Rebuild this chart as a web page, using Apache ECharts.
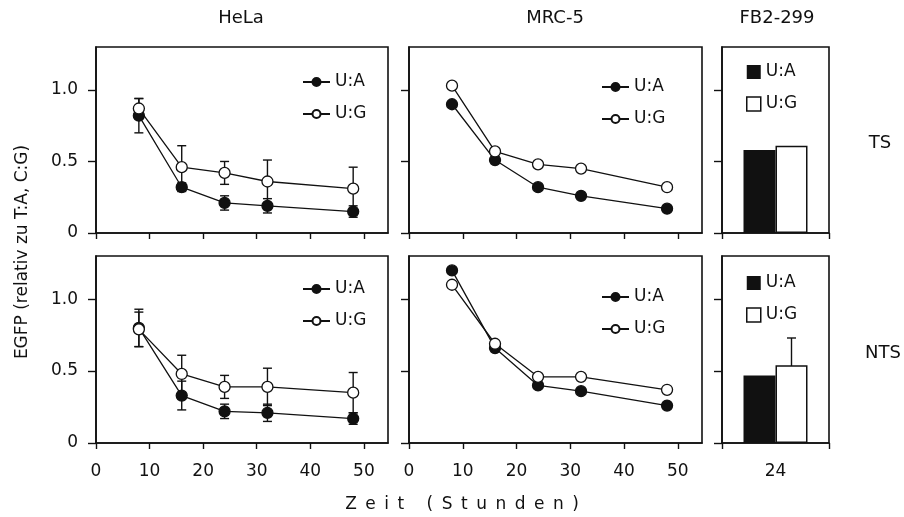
<!DOCTYPE html>
<html>
<head>
<meta charset="utf-8">
<title>EGFP Zeitverlauf</title>
<script src="https://cdn.jsdelivr.net/npm/echarts@6/dist/echarts.min.js"></script>
<style>
  html, body { margin: 0; padding: 0; background: #fff; }
  #chart { width: 904px; height: 517px; }
</style>
</head>
<body>
<div id="chart"></div>
<script>
// Sampling times (hours) and axis ticks
const hours = [8, 16, 24, 32, 48];
const timeTicks = [0, 10, 20, 30, 40, 50];
const egfpTicks = [0, 0.5, 1.0];
const fbCategories = ['24'];

// HeLa, TS
const helaTsUA = [0.82, 0.32, 0.21, 0.19, 0.15];
const helaTsUAErr = [0.12, 0.03, 0.05, 0.05, 0.04];
const helaTsUG = [0.87, 0.46, 0.42, 0.36, 0.31];
const helaTsUGErr = [0.07, 0.15, 0.08, 0.15, 0.15];

// HeLa, NTS
const helaNtsUA = [0.80, 0.33, 0.22, 0.21, 0.17];
const helaNtsUAErr = [0.13, 0.10, 0.05, 0.06, 0.04];
const helaNtsUG = [0.79, 0.48, 0.39, 0.39, 0.35];
const helaNtsUGErr = [0.12, 0.13, 0.08, 0.13, 0.14];

// MRC-5
const mrcTsUA = [0.90, 0.51, 0.32, 0.26, 0.17];
const mrcTsUG = [1.03, 0.57, 0.48, 0.45, 0.32];
const mrcNtsUA = [1.20, 0.66, 0.40, 0.36, 0.26];
const mrcNtsUG = [1.10, 0.69, 0.46, 0.46, 0.37];

// FB2-299, 24 h
const fbTsUA = [0.58];
const fbTsUG = [0.61];
const fbNtsUA = [0.47];
const fbNtsUG = [0.54];
const fbNtsUGErr = [0.19];

const ink = '#111';
const font = '"DejaVu Sans", "Liberation Sans", Arial, sans-serif';
const fs = 17;
const barW = 32;

// panel boxes: [left, top, width, height]
const boxes = [
  [96, 47, 292, 186],   // HeLa TS
  [409, 47, 293, 186],  // MRC-5 TS
  [722, 47, 107, 186],  // FB2-299 TS
  [96, 256, 292, 187],  // HeLa NTS
  [409, 256, 293, 187], // MRC-5 NTS
  [722, 256, 107, 187]  // FB2-299 NTS
];

const grids = boxes.map(b => ({
  left: b[0], top: b[1], width: b[2], height: b[3],
  show: true, borderColor: ink, borderWidth: 1.6, backgroundColor: 'transparent'
}));

function timeAxis(gi, labels) {
  return {
    type: 'value', gridIndex: gi, min: 0, max: 54.5, position: 'bottom',
    axisLine: { show: true, onZero: false, lineStyle: { color: ink, width: 1.6 } },
    axisTick: { show: true, length: 6, customValues: timeTicks, lineStyle: { color: ink, width: 1.4 } },
    axisLabel: { show: labels, customValues: timeTicks, margin: 20, fontSize: fs, color: ink, fontFamily: font },
    splitLine: { show: false }
  };
}
function fbAxis(gi, labels) {
  return {
    type: 'category', gridIndex: gi, data: fbCategories, position: 'bottom',
    axisLine: { show: true, lineStyle: { color: ink, width: 1.6 } },
    axisTick: { show: true, length: 6, lineStyle: { color: ink, width: 1.4 } },
    axisLabel: { show: labels, margin: 20, fontSize: fs, color: ink, fontFamily: font },
    splitLine: { show: false }
  };
}
function egfpAxis(gi, labels) {
  return {
    type: 'value', gridIndex: gi, min: 0, max: 1.3, position: 'left',
    axisLine: { show: true, onZero: false, lineStyle: { color: ink, width: 1.6 } },
    axisTick: { show: true, length: 8, customValues: egfpTicks, lineStyle: { color: ink, width: 1.4 } },
    axisLabel: {
      show: labels, customValues: egfpTicks, margin: 18, fontSize: fs, color: ink, fontFamily: font,
      formatter: v => (v === 0 ? '0' : v.toFixed(1))
    },
    splitLine: { show: false }
  };
}

const xAxes = [timeAxis(0, false), timeAxis(1, false), fbAxis(2, false),
               timeAxis(3, true), timeAxis(4, true), fbAxis(5, true)];
const yAxes = [egfpAxis(0, true), egfpAxis(1, false), egfpAxis(2, false),
               egfpAxis(3, true), egfpAxis(4, false), egfpAxis(5, false)];

// error whiskers with caps
function whisker(shift) {
  return function (params, api) {
    const x = api.value(0), y = api.value(1), e = api.value(2);
    const hi = api.coord([x, y + e]);
    const lo = api.coord([x, y - e]);
    const px = hi[0] + shift;
    const w = 4.5;
    const st = { stroke: ink, lineWidth: 1.4 };
    return {
      type: 'group',
      children: [
        { type: 'line', shape: { x1: px, y1: hi[1], x2: px, y2: lo[1] }, style: st },
        { type: 'line', shape: { x1: px - w, y1: hi[1], x2: px + w, y2: hi[1] }, style: st },
        { type: 'line', shape: { x1: px - w, y1: lo[1], x2: px + w, y2: lo[1] }, style: st }
      ]
    };
  };
}

function lineSeries(name, gi, values, open) {
  return {
    type: 'line', name, xAxisIndex: gi, yAxisIndex: gi,
    data: hours.map((h, i) => [h, values[i]]),
    symbol: 'circle', symbolSize: 11, z: 3,
    lineStyle: { color: ink, width: 1.3 },
    itemStyle: { color: open ? '#fff' : ink, borderColor: ink, borderWidth: 1.3 },
    emphasis: { disabled: true }, animation: false
  };
}
function errSeries(gi, values, errs) {
  return {
    type: 'custom', xAxisIndex: gi, yAxisIndex: gi, z: 2,
    data: hours.map((h, i) => [h, values[i], errs[i]]),
    renderItem: whisker(0), animation: false, silent: true
  };
}
function barSeries(name, gi, values, open) {
  return {
    type: 'bar', name, xAxisIndex: gi, yAxisIndex: gi, data: values,
    barWidth: barW, barGap: '0%', z: 3,
    itemStyle: { color: open ? '#fff' : ink, borderColor: ink, borderWidth: open ? 1.5 : 0 },
    emphasis: { disabled: true }, animation: false
  };
}

const series = [
  // HeLa
  errSeries(0, helaTsUA, helaTsUAErr),
  errSeries(0, helaTsUG, helaTsUGErr),
  lineSeries('U:A', 0, helaTsUA, false),
  lineSeries('U:G', 0, helaTsUG, true),
  errSeries(3, helaNtsUA, helaNtsUAErr),
  errSeries(3, helaNtsUG, helaNtsUGErr),
  lineSeries('U:A', 3, helaNtsUA, false),
  lineSeries('U:G', 3, helaNtsUG, true),
  // MRC-5
  lineSeries('U:A', 1, mrcTsUA, false),
  lineSeries('U:G', 1, mrcTsUG, true),
  lineSeries('U:A', 4, mrcNtsUA, false),
  lineSeries('U:G', 4, mrcNtsUG, true),
  // FB2-299
  barSeries('U:A', 2, fbTsUA, false),
  barSeries('U:G', 2, fbTsUG, true),
  barSeries('U:A', 5, fbNtsUA, false),
  barSeries('U:G', 5, fbNtsUG, true),
  {
    type: 'custom', xAxisIndex: 5, yAxisIndex: 5, z: 2,
    data: fbCategories.map((c, i) => [i, fbNtsUG[i], fbNtsUGErr[i]]),
    renderItem: whisker(barW / 2), animation: false, silent: true
  }
];

function lineLegend(left, top) {
  return {
    data: ['U:A', 'U:G'], orient: 'vertical', left, top,
    itemWidth: 27, itemHeight: 10, itemGap: 14, selectedMode: false,
    textStyle: { fontSize: fs, lineHeight: 18, color: ink, fontFamily: font }
  };
}
function barLegend(left, top) {
  return {
    data: [
      { name: 'U:A', icon: 'rect', itemStyle: { color: ink, borderWidth: 0 } },
      { name: 'U:G', icon: 'rect', itemStyle: { color: '#fff', borderColor: ink, borderWidth: 1.5 } }
    ],
    orient: 'vertical', left, top,
    itemWidth: 14, itemHeight: 14, itemGap: 14, selectedMode: false,
    textStyle: { fontSize: fs, lineHeight: 18, color: ink, fontFamily: font }
  };
}

function txt(text, x, y, extra, size) {
  return Object.assign({
    type: 'text', x, y, silent: true,
    style: { text, fill: ink, font: (size || fs) + 'px ' + font, align: 'center', verticalAlign: 'middle' }
  }, extra || {});
}

const xTitle = Array.from('Zeit (Stunden)').join('\u2002');

const option = {
  animation: false,
  grid: grids,
  xAxis: xAxes,
  yAxis: yAxes,
  series,
  legend: [
    lineLegend(297, 68), lineLegend(297, 275),
    lineLegend(596, 73), lineLegend(596, 283),
    barLegend(741, 58), barLegend(741, 269)
  ],
  graphic: [
    txt('HeLa', 241, 18, null, 18),
    txt('MRC-5', 555, 18, null, 18),
    txt('FB2-299', 777, 18, null, 18),
    txt('TS', 880, 143, null, 18),
    txt('NTS', 883, 353, null, 18),
    txt(xTitle, 462, 505),
    txt('EGFP (relativ zu T:A, C:G)', 23, 252, { rotation: Math.PI / 2 })
  ]
};

const chart = echarts.init(document.getElementById('chart'), null, { renderer: 'canvas' });
chart.setOption(option);
</script>
</body>
</html>
